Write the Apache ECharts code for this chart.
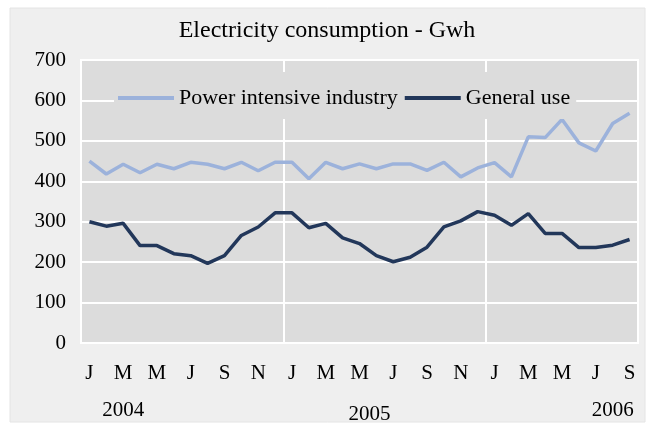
<!DOCTYPE html>
<html>
<head>
<meta charset="utf-8">
<script src="https://cdn.jsdelivr.net/npm/echarts@6/dist/echarts.min.js"></script>
<style>
html,body{margin:0;padding:0;background:#ffffff;}
#chart{width:654px;height:428px;}
</style>
</head>
<body>
<div id="chart"></div>
<script>
const months = ['J','F','M','A','M','J','J','A','S','O','N','D',
                'J','F','M','A','M','J','J','A','S','O','N','D',
                'J','F','M','A','M','J','J','A','S'];
const yearLabels = {2: '2004', 16: '2005', 31: '2006'};
const powerIntensive = [450,418,442,421,442,431,447,442,431,447,426,447,
                        447,406,447,431,443,431,443,443,427,447,411,433,
                        446,411,510,508,553,495,475,543,568];
const generalUse = [300,289,296,241,241,221,216,197,216,266,287,322,
                    322,285,296,260,246,216,201,212,237,287,302,325,
                    316,291,320,271,271,236,236,242,256];
const seriesNames = ['Power intensive industry', 'General use'];
const titleText = 'Electricity consumption - Gwh';

const serif = '"Liberation Serif", "DejaVu Serif", serif';
const chart = echarts.init(document.getElementById('chart'));
chart.setOption({
  backgroundColor: '#ffffff',
  animation: false,
  graphic: [{
    type: 'rect', z: -10, silent: true,
    shape: {x: 10, y: 8, width: 635, height: 414},
    style: {fill: '#efefef', stroke: '#e4e4e4', lineWidth: 1}
  }],
  title: {
    text: titleText, left: 'center', top: 14,
    textStyle: {fontFamily: serif, fontSize: 24, fontWeight: 'normal', color: '#000'}
  },
  legend: {
    data: seriesNames,
    left: 114, top: 72,
    padding: [15, 6, 10, 4],
    backgroundColor: '#dcdcdc',
    itemWidth: 56, itemHeight: 4, itemGap: 7,
    icon: 'rect',
    textStyle: {fontFamily: serif, fontSize: 22, color: '#000'}
  },
  grid: {
    left: 81, right: 16, top: 60, bottom: 85,
    show: true, backgroundColor: '#dcdcdc', borderColor: '#ffffff', borderWidth: 2
  },
  xAxis: [{
    type: 'category', data: months, boundaryGap: true,
    axisLine: {show: false}, axisTick: {show: false},
    axisLabel: {interval: 1, margin: 20, fontFamily: serif, fontSize: 21, color: '#000'},
    splitLine: {show: true, interval: function (i) { return i % 12 === 0; },
                lineStyle: {color: '#ffffff', width: 2}}
  }, {
    type: 'category', data: months, boundaryGap: true, position: 'bottom',
    axisLine: {show: false}, axisTick: {show: false}, splitLine: {show: false},
    axisLabel: {
      interval: 0, margin: 57, fontFamily: serif, fontSize: 21, color: '#000',
      formatter: function (v, i) {
        if (i === 16) return '{b|' + yearLabels[i] + '}';
        return yearLabels[i] || '';
      },
      rich: {b: {fontFamily: serif, fontSize: 21, color: '#000', padding: [4, 0, 0, 20]}}
    }
  }],
  yAxis: {
    type: 'value', min: 0, max: 700, interval: 100,
    axisLine: {show: false}, axisTick: {show: false},
    axisLabel: {margin: 15, fontFamily: serif, fontSize: 21, color: '#000'},
    splitLine: {show: true, lineStyle: {color: '#ffffff', width: 2}}
  },
  series: [{
    name: seriesNames[0], type: 'line', data: powerIntensive, xAxisIndex: 0,
    symbol: 'none', lineStyle: {color: '#9cb2db', width: 3.5}, itemStyle: {color: '#9cb2db'}
  }, {
    name: seriesNames[1], type: 'line', data: generalUse, xAxisIndex: 0,
    symbol: 'none', lineStyle: {color: '#22375a', width: 3.5}, itemStyle: {color: '#22375a'}
  }]
});
</script>
</body>
</html>
